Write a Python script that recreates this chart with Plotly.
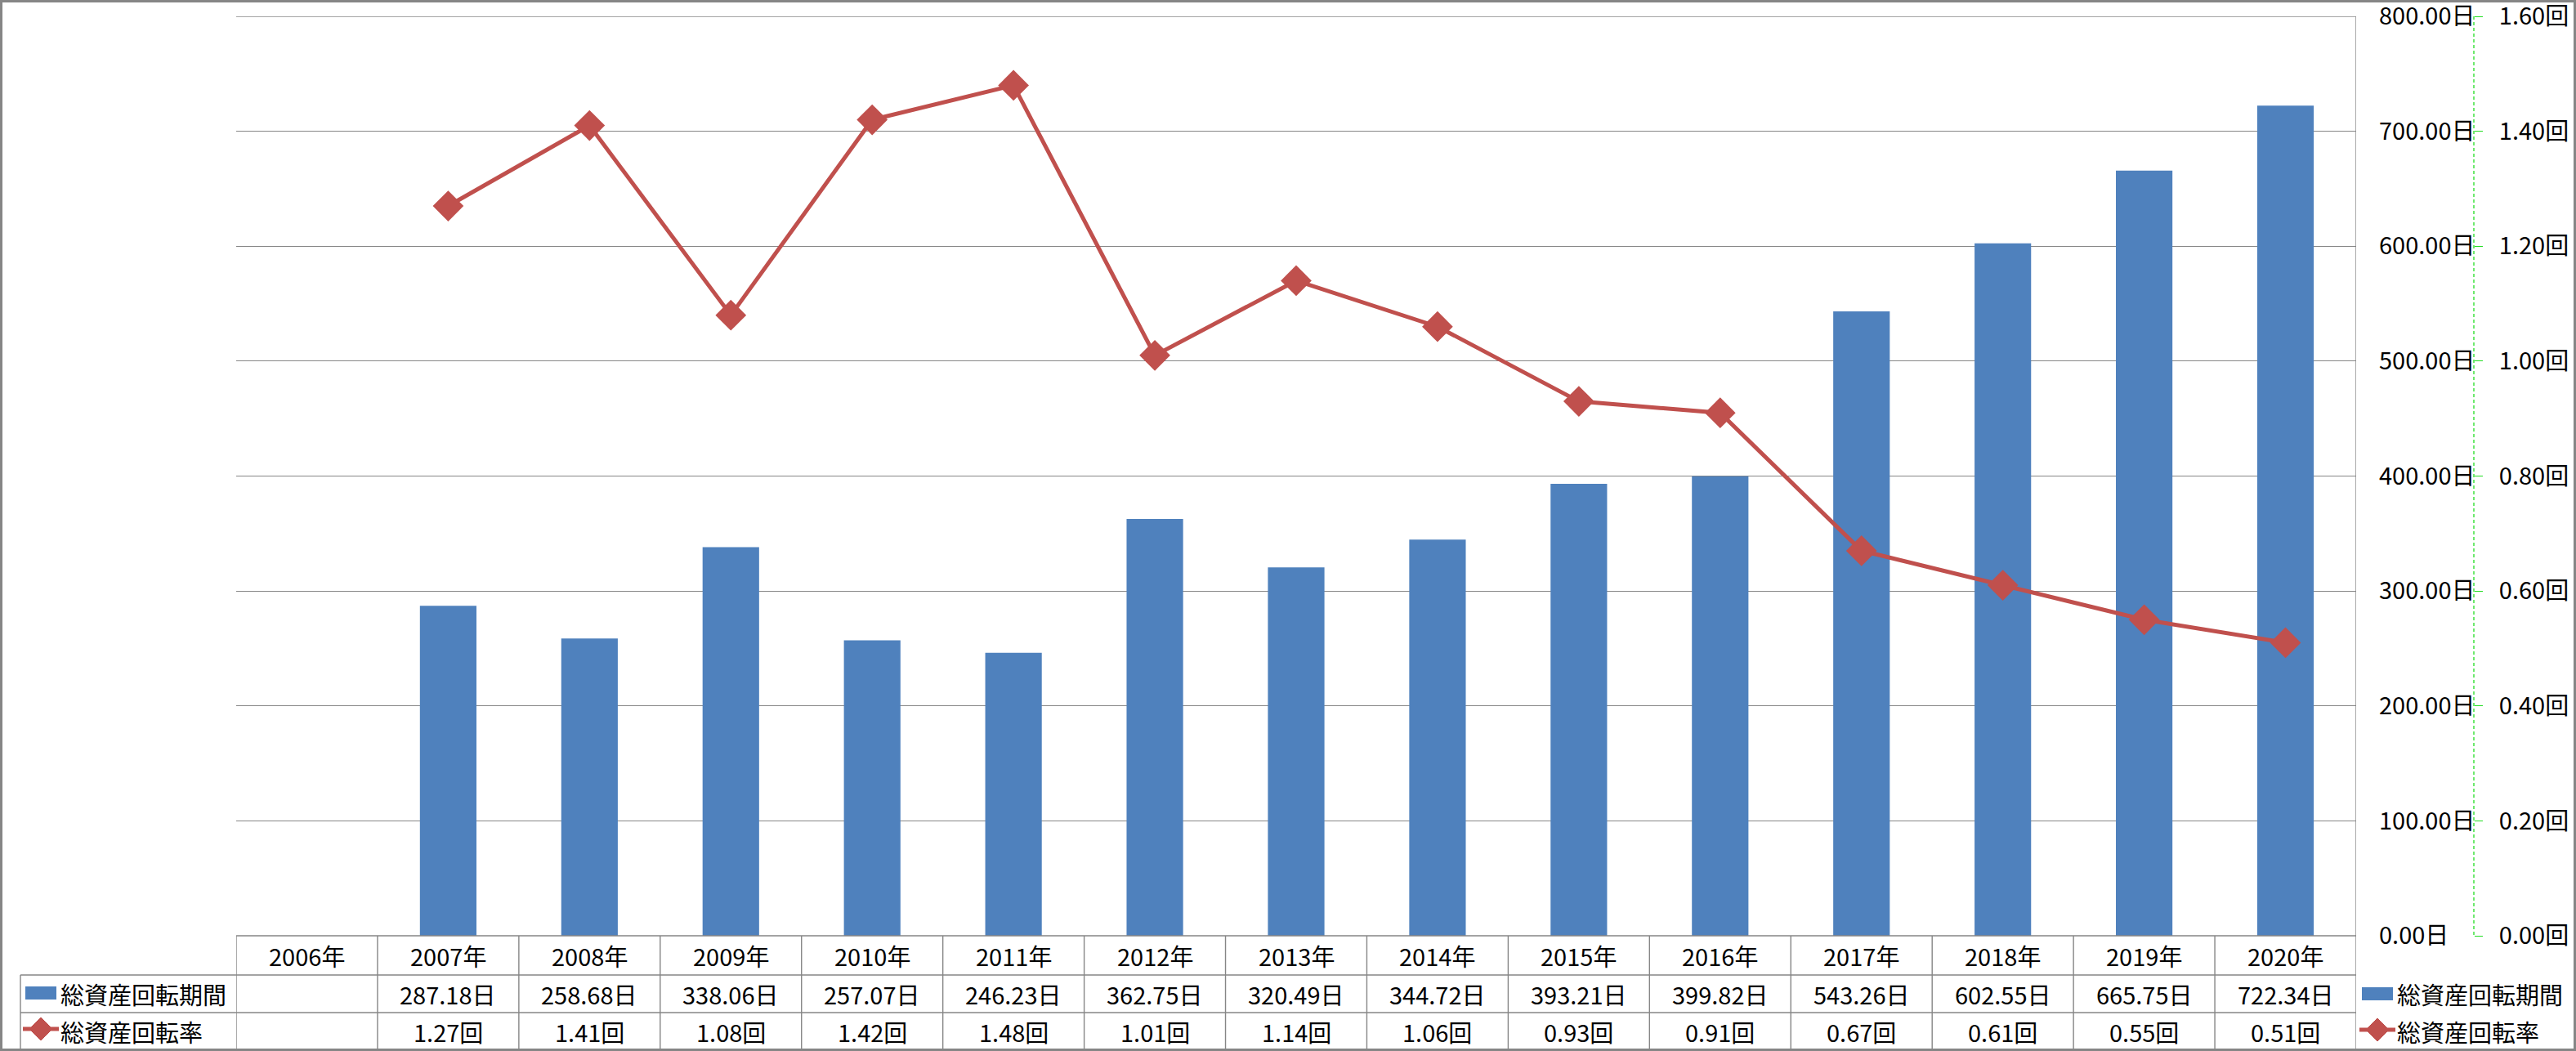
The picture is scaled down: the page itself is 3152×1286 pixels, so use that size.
import plotly.graph_objects as go

# ---- data ----
years = ["2006年", "2007年", "2008年", "2009年", "2010年", "2011年", "2012年", "2013年",
         "2014年", "2015年", "2016年", "2017年", "2018年", "2019年", "2020年"]
period_days = [None, 287.18, 258.68, 338.06, 257.07, 246.23, 362.75, 320.49,
               344.72, 393.21, 399.82, 543.26, 602.55, 665.75, 722.34]
turnover = [None, 1.27, 1.41, 1.08, 1.42, 1.48, 1.01, 1.14,
            1.06, 0.93, 0.91, 0.67, 0.61, 0.55, 0.51]
days_ticks = [0, 100, 200, 300, 400, 500, 600, 700, 800]
days_ticktext = ["0.00日", "100.00日", "200.00日", "300.00日", "400.00日",
                 "500.00日", "600.00日", "700.00日", "800.00日"]
rate_ticks = [0, 0.2, 0.4, 0.6, 0.8, 1.0, 1.2, 1.4, 1.6]
rate_ticktext = ["0.00回", "0.20回", "0.40回", "0.60回", "0.80回",
                 "1.00回", "1.20回", "1.40回", "1.60回"]
name_period = "総資産回転期間"
name_turnover = "総資産回転率"

# ---- styling ----
W, H = 3152, 1286
ML, MR, MT, MB = 289, 2, 20, 141
PW = W - ML - MR
PH = H - MT - MB
BLUE = "#4F81BD"
RED = "#C0504D"
GRID = "#868686"
GREEN = "#22DD22"
FONT = "Noto Sans CJK JP"
FS = 29


def px(x):
    return (x - ML) / PW


def py(y):
    return (H - MB - y) / PH


fig = go.Figure()
fig.add_trace(go.Bar(x=years, y=period_days, name=name_period,
                     marker=dict(color=BLUE, line=dict(width=0)), yaxis="y",
                     showlegend=False))
fig.add_trace(go.Scatter(x=years, y=turnover, name=name_turnover, mode="lines+markers",
                         line=dict(color=RED, width=5),
                         marker=dict(symbol="diamond", size=29, color=RED),
                         yaxis="y2", showlegend=False))

shapes = []
lw = 1.4
n = len(years)
# top gridline (drawn explicitly so it is not dropped at the plot edge)
shapes.append(dict(type="line", xref="x domain", yref="y", x0=0, x1=1,
                   y0=days_ticks[-1], y1=days_ticks[-1], layer="below",
                   line=dict(color=GRID, width=1.3)))
# table vertical lines (category boundaries)
for i in range(n + 1):
    top = py(20) if i == n else py(1145)
    shapes.append(dict(type="line", xref="x", yref="paper", x0=i - 0.5, x1=i - 0.5,
                       y0=top, y1=py(1285), line=dict(color=GRID, width=lw)))
# table horizontal lines
for yy, x0 in [(1145, 289), (1193, 25), (1239, 25)]:
    shapes.append(dict(type="line", xref="paper", yref="paper", x0=px(x0), x1=px(2883),
                       y0=py(yy), y1=py(yy), line=dict(color=GRID, width=lw)))
shapes.append(dict(type="line", xref="paper", yref="paper", x0=px(25), x1=px(25),
                   y0=py(1193), y1=py(1285), line=dict(color=GRID, width=lw)))
# outer border
shapes.append(dict(type="rect", xref="paper", yref="paper", x0=px(1.5), x1=px(3150.5),
                   y0=py(1.5), y1=py(1284.5), line=dict(color=GRID, width=3)))
# dashed secondary axis line
shapes.append(dict(type="line", xref="paper", yref="paper", x0=px(3027), x1=px(3027),
                   y0=py(20), y1=py(1145),
                   line=dict(color=GREEN, width=1.3, dash="4px,3px")))


def bar_key(x0, yc):
    shapes.append(dict(type="rect", xref="paper", yref="paper", x0=px(x0), x1=px(x0 + 38),
                       y0=py(yc + 8), y1=py(yc - 8), fillcolor=BLUE, line=dict(width=0)))


def line_key(x0, yc):
    shapes.append(dict(type="line", xref="paper", yref="paper", x0=px(x0), x1=px(x0 + 44),
                       y0=py(yc), y1=py(yc), line=dict(color=RED, width=5)))
    cx = x0 + 22
    p = "M {},{} L {},{} L {},{} L {},{} Z".format(
        px(cx - 14), py(yc), px(cx), py(yc - 14), px(cx + 14), py(yc), px(cx), py(yc + 14))
    shapes.append(dict(type="path", xref="paper", yref="paper", path=p,
                       fillcolor=RED, line=dict(color=RED, width=1)))


annotations = []


def label(x, y, text):
    annotations.append(dict(x=px(x), y=py(y), xref="paper", yref="paper", text=text,
                            showarrow=False, xanchor="left", yanchor="middle",
                            font=dict(size=FS, color="black", family=FONT)))


# row-label keys (data table) and legend (right)
bar_key(31, 1215)
line_key(28, 1259)
label(72, 1216, name_period)
label(72, 1262, name_turnover)
bar_key(2890, 1216)
line_key(2887, 1260)
label(2931, 1216, name_period)
label(2931, 1262, name_turnover)

for i, yr in enumerate(years):
    annotations.append(dict(x=yr, xref="x", y=py(1169), yref="paper", text=yr,
                            showarrow=False, xanchor="center", yanchor="middle",
                            font=dict(size=FS, color="black", family=FONT)))
    if period_days[i] is not None:
        annotations.append(dict(x=yr, xref="x", y=py(1216), yref="paper",
                                text=f"{period_days[i]:.2f}日", showarrow=False,
                                xanchor="center", yanchor="middle",
                                font=dict(size=FS, color="black", family=FONT)))
    if turnover[i] is not None:
        annotations.append(dict(x=yr, xref="x", y=py(1262), yref="paper",
                                text=f"{turnover[i]:.2f}回", showarrow=False,
                                xanchor="center", yanchor="middle",
                                font=dict(size=FS, color="black", family=FONT)))

fig.update_layout(
    width=W, height=H,
    margin=dict(l=ML, r=MR, t=MT, b=MB, autoexpand=False),
    paper_bgcolor="white", plot_bgcolor="white",
    font=dict(family=FONT, size=FS, color="black"),
    bargap=0.6,
    showlegend=False,
    xaxis=dict(domain=[0, px(2883)], type="category", range=[-0.5, n - 0.5],
               showticklabels=False, ticks="", showgrid=False, zeroline=False, showline=False,
               automargin=False),
    yaxis=dict(side="right", anchor="x", range=[0, 800], tickmode="array",
               tickvals=days_ticks, ticktext=days_ticktext,
               showgrid=True, gridcolor=GRID, gridwidth=1.3,
               zeroline=False, showline=False, ticks="", ticklabelstandoff=27,
               ticklabeloverflow="allow", automargin=False,
               tickfont=dict(size=FS, family=FONT)),
    yaxis2=dict(overlaying="y", side="right", anchor="free", position=px(3027),
                range=[0, 1.6], tickmode="array",
                tickvals=rate_ticks, ticktext=rate_ticktext,
                showgrid=False, zeroline=False, showline=False,
                ticks="outside", ticklen=10, tickcolor=GREEN, tickwidth=1,
                ticklabelstandoff=14, ticklabeloverflow="allow", automargin=False,
                tickfont=dict(size=FS, family=FONT)),
    shapes=shapes,
    annotations=annotations,
)

fig.write_html("out.html")
